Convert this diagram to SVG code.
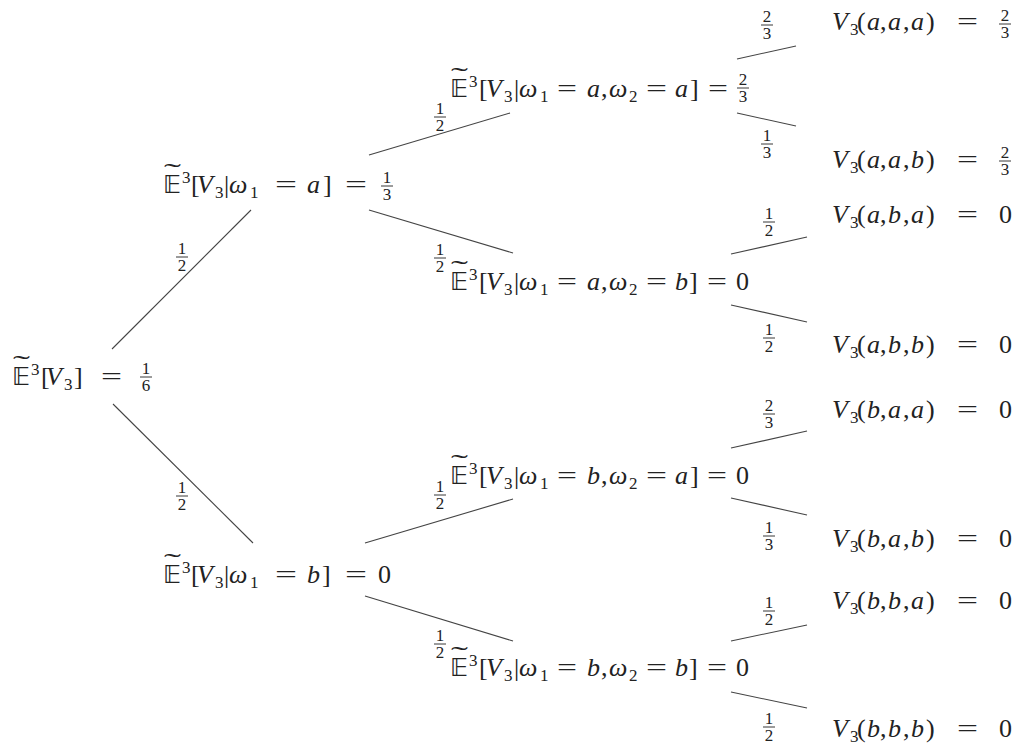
<svg xmlns="http://www.w3.org/2000/svg" width="1018" height="747" viewBox="0 0 1018 747">
<style>
text{font-family:'Liberation Serif','Times New Roman',serif;fill:#222}
.t{font-size:26px}
.i{font-style:italic}
.s{font-size:17px}
.bb{font-family:'DejaVu Sans',sans-serif;font-size:24px}
.tl{font-size:26px}
.fr text{font-size:17px;text-anchor:middle}
.fr line{stroke:#222;stroke-width:0.9}
#connectors line{stroke:#444;stroke-width:1.1}
</style>
<rect width="1018" height="747" fill="#fff"/>
<g id="connectors">
<line x1="112" y1="349" x2="251" y2="210"/>
<line x1="113" y1="404" x2="253" y2="543"/>
<line x1="369" y1="155" x2="510" y2="113"/>
<line x1="369" y1="210" x2="513" y2="253"/>
<line x1="365" y1="543" x2="513" y2="499"/>
<line x1="365" y1="596" x2="513" y2="641"/>
<line x1="737" y1="59" x2="796" y2="46"/>
<line x1="737" y1="113" x2="796" y2="126"/>
<line x1="731" y1="254" x2="807" y2="237"/>
<line x1="731" y1="305" x2="807" y2="322"/>
<line x1="731" y1="448" x2="807" y2="431"/>
<line x1="731" y1="498" x2="807" y2="515"/>
<line x1="731" y1="641" x2="807" y2="625"/>
<line x1="731" y1="692" x2="807" y2="708"/>
</g>
<g id="edge-labels">
<g class="fr" transform="translate(182,257)"><text y="-3">1</text><line x1="-6" x2="6"/><text y="14">2</text></g>
<g class="fr" transform="translate(182,496)"><text y="-3">1</text><line x1="-6" x2="6"/><text y="14">2</text></g>
<g class="fr" transform="translate(440,117)"><text y="-3">1</text><line x1="-6" x2="6"/><text y="14">2</text></g>
<g class="fr" transform="translate(440,258)"><text y="-3">1</text><line x1="-6" x2="6"/><text y="14">2</text></g>
<g class="fr" transform="translate(440,495)"><text y="-3">1</text><line x1="-6" x2="6"/><text y="14">2</text></g>
<g class="fr" transform="translate(440,644)"><text y="-3">1</text><line x1="-6" x2="6"/><text y="14">2</text></g>
<g class="fr" transform="translate(767,25)"><text y="-3">2</text><line x1="-6" x2="6"/><text y="14">3</text></g>
<g class="fr" transform="translate(767,144)"><text y="-3">1</text><line x1="-6" x2="6"/><text y="14">3</text></g>
<g class="fr" transform="translate(769,222)"><text y="-3">1</text><line x1="-6" x2="6"/><text y="14">2</text></g>
<g class="fr" transform="translate(769,338)"><text y="-3">1</text><line x1="-6" x2="6"/><text y="14">2</text></g>
<g class="fr" transform="translate(769,414)"><text y="-3">2</text><line x1="-6" x2="6"/><text y="14">3</text></g>
<g class="fr" transform="translate(769,536)"><text y="-3">1</text><line x1="-6" x2="6"/><text y="14">3</text></g>
<g class="fr" transform="translate(769,611)"><text y="-3">1</text><line x1="-6" x2="6"/><text y="14">2</text></g>
<g class="fr" transform="translate(769,727)"><text y="-3">1</text><line x1="-6" x2="6"/><text y="14">2</text></g>
</g>

<g id="root">
<text class="tl" x="13" y="373" textLength="17" lengthAdjust="spacingAndGlyphs">˜</text>
<text class="bb" x="12" y="385" textLength="18" lengthAdjust="spacingAndGlyphs">𝔼</text>
<text class="s" x="31" y="375">3</text>
<text class="t"><tspan x="41" y="385">[</tspan><tspan x="46" class="i">V</tspan></text>
<text class="s" x="64" y="390">3</text>
<text class="t" x="74" y="385">]</text>
<text class="t" x="101" y="385" textLength="21" lengthAdjust="spacingAndGlyphs">=</text>
<g class="fr" transform="translate(146,377)"><text y="-3">1</text><line x1="-6" x2="6"/><text y="14">6</text></g>
</g>

<g id="node-a">
<text class="tl" x="164" y="181" textLength="17" lengthAdjust="spacingAndGlyphs">˜</text>
<text class="bb" x="163" y="193" textLength="18" lengthAdjust="spacingAndGlyphs">𝔼</text>
<text class="s" x="182" y="183">3</text>
<text class="t"><tspan x="191" y="193">[</tspan><tspan x="197" class="i">V</tspan></text>
<text class="s" x="215" y="198">3</text>
<text class="t"><tspan x="224" y="193">|</tspan><tspan x="229" class="i">ω</tspan></text>
<text class="s" x="250" y="198">1</text>
<text class="t" x="275" y="193" textLength="22" lengthAdjust="spacingAndGlyphs">=</text>
<text class="t"><tspan x="307" y="193" class="i">a</tspan><tspan x="323">]</tspan></text>
<text class="t" x="345" y="193" textLength="22" lengthAdjust="spacingAndGlyphs">=</text>
<g class="fr" transform="translate(387,186)"><text y="-3">1</text><line x1="-6" x2="6"/><text y="14">3</text></g>
</g>

<g id="node-b">
<text class="tl" x="164" y="571" textLength="17" lengthAdjust="spacingAndGlyphs">˜</text>
<text class="bb" x="163" y="583" textLength="18" lengthAdjust="spacingAndGlyphs">𝔼</text>
<text class="s" x="182" y="573">3</text>
<text class="t"><tspan x="191" y="583">[</tspan><tspan x="197" class="i">V</tspan></text>
<text class="s" x="215" y="588">3</text>
<text class="t"><tspan x="224" y="583">|</tspan><tspan x="229" class="i">ω</tspan></text>
<text class="s" x="250" y="588">1</text>
<text class="t" x="275" y="583" textLength="22" lengthAdjust="spacingAndGlyphs">=</text>
<text class="t"><tspan x="307" y="583" class="i">b</tspan><tspan x="322">]</tspan></text>
<text class="t" x="345" y="583" textLength="22" lengthAdjust="spacingAndGlyphs">=</text>
<text class="t" x="378" y="583">0</text>
</g>

<g id="node-aa">
<text class="tl" x="451" y="85" textLength="17" lengthAdjust="spacingAndGlyphs">˜</text>
<text class="bb" x="450" y="97" textLength="18" lengthAdjust="spacingAndGlyphs">𝔼</text>
<text class="s" x="469" y="87">3</text>
<text class="t"><tspan x="479" y="97">[</tspan><tspan x="486" class="i">V</tspan></text>
<text class="s" x="504" y="102">3</text>
<text class="t"><tspan x="514" y="97">|</tspan><tspan x="519" class="i">ω</tspan></text>
<text class="s" x="540" y="102">1</text>
<text class="t" x="557" y="97" textLength="20" lengthAdjust="spacingAndGlyphs">=</text>
<text class="t"><tspan x="587" y="97" class="i">a</tspan><tspan x="601">,</tspan><tspan x="609" class="i">ω</tspan></text>
<text class="s" x="629" y="102">2</text>
<text class="t" x="646" y="97" textLength="21" lengthAdjust="spacingAndGlyphs">=</text>
<text class="t"><tspan x="675" y="97" class="i">a</tspan><tspan x="690">]</tspan></text>
<text class="t" x="708" y="97" textLength="20" lengthAdjust="spacingAndGlyphs">=</text>
<g class="fr" transform="translate(743,88)"><text y="-3">2</text><line x1="-6" x2="6"/><text y="14">3</text></g>
</g>

<g id="node-ab">
<text class="tl" x="451" y="278" textLength="17" lengthAdjust="spacingAndGlyphs">˜</text>
<text class="bb" x="450" y="290" textLength="18" lengthAdjust="spacingAndGlyphs">𝔼</text>
<text class="s" x="469" y="280">3</text>
<text class="t"><tspan x="479" y="290">[</tspan><tspan x="486" class="i">V</tspan></text>
<text class="s" x="504" y="295">3</text>
<text class="t"><tspan x="514" y="290">|</tspan><tspan x="519" class="i">ω</tspan></text>
<text class="s" x="540" y="295">1</text>
<text class="t" x="557" y="290" textLength="20" lengthAdjust="spacingAndGlyphs">=</text>
<text class="t"><tspan x="587" y="290" class="i">a</tspan><tspan x="601">,</tspan><tspan x="609" class="i">ω</tspan></text>
<text class="s" x="629" y="295">2</text>
<text class="t" x="646" y="290" textLength="21" lengthAdjust="spacingAndGlyphs">=</text>
<text class="t"><tspan x="675" y="290" class="i">b</tspan><tspan x="689">]</tspan></text>
<text class="t" x="707" y="290" textLength="20" lengthAdjust="spacingAndGlyphs">=</text>
<text class="t" x="736" y="290">0</text>
</g>

<g id="node-ba">
<text class="tl" x="451" y="472" textLength="17" lengthAdjust="spacingAndGlyphs">˜</text>
<text class="bb" x="450" y="484" textLength="18" lengthAdjust="spacingAndGlyphs">𝔼</text>
<text class="s" x="469" y="474">3</text>
<text class="t"><tspan x="479" y="484">[</tspan><tspan x="486" class="i">V</tspan></text>
<text class="s" x="504" y="489">3</text>
<text class="t"><tspan x="514" y="484">|</tspan><tspan x="519" class="i">ω</tspan></text>
<text class="s" x="540" y="489">1</text>
<text class="t" x="557" y="484" textLength="20" lengthAdjust="spacingAndGlyphs">=</text>
<text class="t"><tspan x="587" y="484" class="i">b</tspan><tspan x="601">,</tspan><tspan x="609" class="i">ω</tspan></text>
<text class="s" x="629" y="489">2</text>
<text class="t" x="646" y="484" textLength="21" lengthAdjust="spacingAndGlyphs">=</text>
<text class="t"><tspan x="675" y="484" class="i">a</tspan><tspan x="690">]</tspan></text>
<text class="t" x="707" y="484" textLength="20" lengthAdjust="spacingAndGlyphs">=</text>
<text class="t" x="736" y="484">0</text>
</g>

<g id="node-bb">
<text class="tl" x="451" y="664" textLength="17" lengthAdjust="spacingAndGlyphs">˜</text>
<text class="bb" x="450" y="676" textLength="18" lengthAdjust="spacingAndGlyphs">𝔼</text>
<text class="s" x="469" y="666">3</text>
<text class="t"><tspan x="479" y="676">[</tspan><tspan x="486" class="i">V</tspan></text>
<text class="s" x="504" y="681">3</text>
<text class="t"><tspan x="514" y="676">|</tspan><tspan x="519" class="i">ω</tspan></text>
<text class="s" x="540" y="681">1</text>
<text class="t" x="557" y="676" textLength="20" lengthAdjust="spacingAndGlyphs">=</text>
<text class="t"><tspan x="587" y="676" class="i">b</tspan><tspan x="601">,</tspan><tspan x="609" class="i">ω</tspan></text>
<text class="s" x="629" y="681">2</text>
<text class="t" x="646" y="676" textLength="21" lengthAdjust="spacingAndGlyphs">=</text>
<text class="t"><tspan x="675" y="676" class="i">b</tspan><tspan x="689">]</tspan></text>
<text class="t" x="707" y="676" textLength="20" lengthAdjust="spacingAndGlyphs">=</text>
<text class="t" x="736" y="676">0</text>
</g>

<g id="leaf-aaa">
<text class="t i" x="832" y="30">V</text><text class="s" x="850" y="35">3</text>
<text class="t"><tspan x="857" y="30">(</tspan><tspan x="867" class="i">a</tspan><tspan x="880">,</tspan><tspan x="888" class="i">a</tspan><tspan x="903">,</tspan><tspan x="911" class="i">a</tspan><tspan x="926">)</tspan></text>
<text class="t" x="957" y="30" textLength="21" lengthAdjust="spacingAndGlyphs">=</text>
<g class="fr" transform="translate(1005,24)"><text y="-3">2</text><line x1="-6" x2="6"/><text y="14">3</text></g>
</g>
<g id="leaf-aab">
<text class="t i" x="832" y="168">V</text><text class="s" x="850" y="173">3</text>
<text class="t"><tspan x="857" y="168">(</tspan><tspan x="867" class="i">a</tspan><tspan x="880">,</tspan><tspan x="888" class="i">a</tspan><tspan x="903">,</tspan><tspan x="911" class="i">b</tspan><tspan x="926">)</tspan></text>
<text class="t" x="957" y="168" textLength="21" lengthAdjust="spacingAndGlyphs">=</text>
<g class="fr" transform="translate(1005,161)"><text y="-3">2</text><line x1="-6" x2="6"/><text y="14">3</text></g>
</g>
<g id="leaf-aba">
<text class="t i" x="832" y="223">V</text><text class="s" x="850" y="228">3</text>
<text class="t"><tspan x="857" y="223">(</tspan><tspan x="867" class="i">a</tspan><tspan x="880">,</tspan><tspan x="888" class="i">b</tspan><tspan x="903">,</tspan><tspan x="911" class="i">a</tspan><tspan x="926">)</tspan></text>
<text class="t" x="957" y="223" textLength="21" lengthAdjust="spacingAndGlyphs">=</text>
<text class="t" x="999" y="223">0</text>
</g>
<g id="leaf-abb">
<text class="t i" x="832" y="353">V</text><text class="s" x="850" y="358">3</text>
<text class="t"><tspan x="857" y="353">(</tspan><tspan x="867" class="i">a</tspan><tspan x="880">,</tspan><tspan x="888" class="i">b</tspan><tspan x="903">,</tspan><tspan x="911" class="i">b</tspan><tspan x="926">)</tspan></text>
<text class="t" x="957" y="353" textLength="21" lengthAdjust="spacingAndGlyphs">=</text>
<text class="t" x="999" y="353">0</text>
</g>
<g id="leaf-baa">
<text class="t i" x="832" y="418">V</text><text class="s" x="850" y="423">3</text>
<text class="t"><tspan x="857" y="418">(</tspan><tspan x="867" class="i">b</tspan><tspan x="880">,</tspan><tspan x="888" class="i">a</tspan><tspan x="903">,</tspan><tspan x="911" class="i">a</tspan><tspan x="926">)</tspan></text>
<text class="t" x="957" y="418" textLength="21" lengthAdjust="spacingAndGlyphs">=</text>
<text class="t" x="999" y="418">0</text>
</g>
<g id="leaf-bab">
<text class="t i" x="832" y="547">V</text><text class="s" x="850" y="552">3</text>
<text class="t"><tspan x="857" y="547">(</tspan><tspan x="867" class="i">b</tspan><tspan x="880">,</tspan><tspan x="888" class="i">a</tspan><tspan x="903">,</tspan><tspan x="911" class="i">b</tspan><tspan x="926">)</tspan></text>
<text class="t" x="957" y="547" textLength="21" lengthAdjust="spacingAndGlyphs">=</text>
<text class="t" x="999" y="547">0</text>
</g>
<g id="leaf-bba">
<text class="t i" x="832" y="609">V</text><text class="s" x="850" y="614">3</text>
<text class="t"><tspan x="857" y="609">(</tspan><tspan x="867" class="i">b</tspan><tspan x="880">,</tspan><tspan x="888" class="i">b</tspan><tspan x="903">,</tspan><tspan x="911" class="i">a</tspan><tspan x="926">)</tspan></text>
<text class="t" x="957" y="609" textLength="21" lengthAdjust="spacingAndGlyphs">=</text>
<text class="t" x="999" y="609">0</text>
</g>
<g id="leaf-bbb">
<text class="t i" x="832" y="737">V</text><text class="s" x="850" y="742">3</text>
<text class="t"><tspan x="857" y="737">(</tspan><tspan x="867" class="i">b</tspan><tspan x="880">,</tspan><tspan x="888" class="i">b</tspan><tspan x="903">,</tspan><tspan x="911" class="i">b</tspan><tspan x="926">)</tspan></text>
<text class="t" x="957" y="737" textLength="21" lengthAdjust="spacingAndGlyphs">=</text>
<text class="t" x="999" y="737">0</text>
</g>
</svg>
